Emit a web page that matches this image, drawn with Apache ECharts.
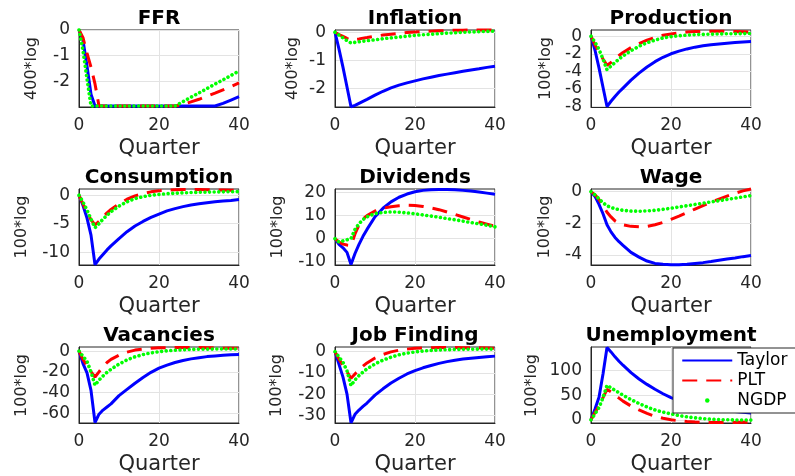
<!DOCTYPE html>
<html><head><meta charset="utf-8">
<script src="https://cdn.jsdelivr.net/npm/echarts@6/dist/echarts.min.js"></script>
<style>html,body{margin:0;padding:0;background:#fff}#c{width:795px;height:476px}</style>
</head><body><div id="c"></div>
<script>
// ---------------- DATA ----------------
const quarters = [0,1,2,3,4,5,6,7,8,10,12,14,16,18,20,22,24,26,28,30,32,34,36,38,40];
const seriesNames = ['Taylor','PLT','NGDP'];
const panelTitles = ['FFR','Inflation','Production','Consumption','Dividends','Wage','Vacancies','Job Finding','Unemployment'];
const yAxisNames = ['400*log','400*log','100*log','100*log','100*log','100*log','100*log','100*log','100*log'];
const xTickLabels = [0,20,40];
const yTickLabels = [
  [-2,-1,0], [-2,-1,0], [-8,-6,-4,-2,0],
  [-10,-5,0], [-10,0,10,20], [-4,-2,0],
  [-60,-40,-20,0], [-30,-20,-10,0], [0,50,100]
];

const ffrTaylor = [0,-0.4,-1.4,-2.5,-2.96,-2.96,-2.96,-2.96,-2.96,-2.96,-2.96,-2.96,-2.96,-2.96,-2.96,-2.96,-2.96,-2.96,-2.96,-2.96,-2.96,-2.96,-2.86,-2.73,-2.6];
const ffrPLT    = [0,-0.3,-0.9,-1.45,-2.1,-2.96,-2.96,-2.96,-2.96,-2.96,-2.96,-2.96,-2.96,-2.96,-2.96,-2.96,-2.96,-2.9,-2.8,-2.7,-2.58,-2.46,-2.33,-2.2,-2.06];
const ffrNGDP   = [0,-0.8,-1.9,-2.96,-2.96,-2.96,-2.96,-2.96,-2.96,-2.96,-2.96,-2.96,-2.96,-2.96,-2.96,-2.96,-2.96,-2.79,-2.62,-2.45,-2.28,-2.11,-1.94,-1.77,-1.6];

const infTaylor = [0,-0.6,-1.25,-1.95,-2.65,-2.6,-2.53,-2.46,-2.39,-2.24,-2.1,-1.98,-1.88,-1.8,-1.73,-1.66,-1.6,-1.54,-1.49,-1.44,-1.39,-1.34,-1.3,-1.25,-1.21];
const infPLT    = [0,-0.08,-0.15,-0.22,-0.28,-0.26,-0.24,-0.21,-0.19,-0.14,-0.1,-0.07,-0.04,-0.01,0.01,0.03,0.04,0.05,0.06,0.07,0.07,0.08,0.08,0.08,0.08];
const infNGDP   = [0,-0.1,-0.2,-0.3,-0.38,-0.36,-0.34,-0.32,-0.3,-0.27,-0.23,-0.2,-0.17,-0.14,-0.11,-0.09,-0.07,-0.05,-0.03,-0.02,0.0,0.01,0.02,0.03,0.04];

const prodTaylor = [0,-1.6,-3.6,-5.8,-8.0,-7.4,-6.85,-6.35,-5.9,-5.0,-4.2,-3.5,-2.9,-2.4,-2.0,-1.7,-1.45,-1.25,-1.1,-0.98,-0.88,-0.8,-0.73,-0.67,-0.62];
const prodPLT    = [0,-1.0,-1.8,-2.6,-3.3,-3.0,-2.6,-2.2,-1.85,-1.3,-0.85,-0.45,-0.15,0.1,0.25,0.38,0.47,0.52,0.55,0.56,0.56,0.55,0.53,0.5,0.47];
const prodNGDP   = [0,-0.7,-1.5,-2.6,-3.8,-3.4,-3.0,-2.6,-2.25,-1.65,-1.15,-0.75,-0.45,-0.2,-0.05,0.05,0.12,0.17,0.2,0.23,0.25,0.27,0.28,0.29,0.3];

const consTaylor = [0,-1.8,-4.0,-7.0,-12.2,-11.2,-10.4,-9.6,-8.9,-7.6,-6.4,-5.4,-4.6,-3.9,-3.3,-2.75,-2.35,-2.0,-1.7,-1.5,-1.3,-1.15,-1.0,-0.9,-0.75];
const consPLT    = [0,-1.5,-3.0,-4.3,-5.2,-4.6,-3.8,-3.1,-2.5,-1.5,-0.7,-0.1,0.3,0.6,0.8,0.9,0.98,1.0,1.0,1.0,0.98,0.95,0.92,0.88,0.85];
const consNGDP   = [0,-1.2,-2.6,-4.2,-5.7,-5.0,-4.2,-3.5,-2.9,-1.9,-1.15,-0.6,-0.25,0.0,0.15,0.27,0.36,0.43,0.48,0.52,0.55,0.58,0.6,0.62,0.64];

const divTaylor = [0,-2.5,-4.0,-6.0,-11.3,-6.5,-2.5,1.0,4.0,9.5,13.2,16.0,18.0,19.4,20.4,21.0,21.3,21.4,21.4,21.3,21.0,20.7,20.3,19.8,19.3];
const divPLT    = [0,-1.5,-2.4,-2.8,-3.0,2.0,6.0,8.5,10.0,12.0,13.2,13.9,14.3,14.5,14.4,14.0,13.4,12.6,11.6,10.5,9.4,8.3,7.2,6.3,5.4];
const divNGDP   = [0,-1.5,-1.0,-0.5,0.0,4.0,6.5,8.3,9.5,10.9,11.4,11.6,11.5,11.2,10.8,10.3,9.8,9.3,8.7,8.2,7.6,7.0,6.4,5.8,5.1];

const wageTaylor = [0,-0.3,-0.8,-1.4,-2.1,-2.55,-2.9,-3.17,-3.4,-3.85,-4.15,-4.4,-4.55,-4.6,-4.63,-4.63,-4.6,-4.55,-4.5,-4.43,-4.35,-4.27,-4.2,-4.12,-4.05];
const wagePLT    = [0,-0.2,-0.5,-0.9,-1.3,-1.6,-1.85,-2.0,-2.1,-2.2,-2.22,-2.2,-2.1,-1.95,-1.75,-1.55,-1.33,-1.1,-0.88,-0.67,-0.47,-0.28,-0.1,0.05,0.17];
const wageNGDP   = [0,-0.2,-0.45,-0.7,-0.9,-1.0,-1.08,-1.14,-1.18,-1.23,-1.24,-1.22,-1.18,-1.12,-1.05,-0.97,-0.89,-0.81,-0.73,-0.65,-0.57,-0.49,-0.41,-0.33,-0.25];

const vacTaylor = [0,-12,-21,-38,-69,-61,-57,-54,-51,-43,-37,-31,-25.5,-20.5,-16.5,-13.5,-11,-9,-7.5,-6.3,-5.3,-4.6,-4,-3.6,-3.2];
const vacPLT    = [0,-8,-14,-20,-25,-20,-15,-11,-8,-4,-1,1,2,2.8,3.2,3.4,3.5,3.5,3.5,3.4,3.3,3.2,3.0,2.9,2.7];
const vacNGDP   = [0,-5,-10,-20,-33,-28,-24,-20.5,-17.5,-12.5,-8.5,-5.5,-3.3,-1.7,-0.5,0.3,0.9,1.3,1.6,1.8,1.9,2.0,2.0,2.0,2.0];

const jobTaylor = [0,-6,-12,-20,-33.5,-29.5,-27.5,-25.8,-24.2,-20.5,-17.5,-14.8,-12.5,-10.5,-8.9,-7.6,-6.5,-5.5,-4.7,-4.0,-3.5,-3.1,-2.7,-2.4,-2.1];
const jobPLT    = [0,-3.5,-6.5,-9.5,-12.5,-10.5,-8.5,-6.8,-5.3,-3.0,-1.3,-0.1,0.7,1.2,1.6,1.8,1.9,2.0,2.0,2.0,1.9,1.9,1.8,1.7,1.6];
const jobNGDP   = [0,-2.5,-5,-9,-16,-13.3,-11.3,-9.6,-8.1,-5.8,-4,-2.6,-1.5,-0.7,-0.1,0.3,0.6,0.8,0.95,1.05,1.1,1.15,1.2,1.2,1.2];

const unTaylor = [0,22,46,93,147,138,128,119,111,96,83,72,62,53,45,39,34,29.5,26,23,20.5,18.5,16.8,15.3,14];
const unPLT    = [0,15,28,45,62,57,50,44,38,28,20,13,7,3,0,-2,-3.5,-4.5,-5,-5.5,-5.5,-5.5,-5.3,-5,-4.7];
const unNGDP   = [0,12,25,45,70,65,60,55,50,41,33,26,20,15.5,12,8.5,6,4,2.5,1.3,0.5,0,-0.3,-0.5,-0.6];

const yMin = [-3,-2.66,-8.05,-12.25,-11.5,-4.65,-69.5,-33.6,-6.5];
const yMax = [0,0.08,0.7,1.1,21.6,0.17,4,2.2,148];

// ---------------- LAYOUT / STYLE ----------------
const panels = [
  [ffrTaylor, ffrPLT, ffrNGDP],
  [infTaylor, infPLT, infNGDP],
  [prodTaylor, prodPLT, prodNGDP],
  [consTaylor, consPLT, consNGDP],
  [divTaylor, divPLT, divNGDP],
  [wageTaylor, wagePLT, wageNGDP],
  [vacTaylor, vacPLT, vacNGDP],
  [jobTaylor, jobPLT, jobNGDP],
  [unTaylor, unPLT, unNGDP]
];
const colLeft = [79, 335, 591];
const rowTop = [30, 189, 347];
const rowH = [77, 76, 77];
const plotW = 160;
const yNameDist = [47, 42, 45, 57, 57, 46, 57, 58, 59];
const FONT = 'DejaVu Sans';
const AX = '#262626';

const seriesStyle = [
  {color:'#0000ff', lineStyle:{width:3, type:'solid'}},
  {color:'#ff0000', lineStyle:{width:3, type:[15,9]}},
  {color:'#00ff00', lineStyle:{width:3.6, type:[0.01,4.6], cap:'round'}}
];

const grids = [], xAxes = [], yAxes = [], titles = [], series = [], graphics = [];
panels.forEach((pd, i) => {
  const r = Math.floor(i / 3), c = i % 3;
  grids.push({left: colLeft[c], top: rowTop[r], width: plotW, height: rowH[r],
    show: true, borderColor: AX, borderWidth: 1, backgroundColor: '#fff'});
  titles.push({text: panelTitles[i], left: colLeft[c] + plotW/2, top: rowTop[r] - 21, textAlign: 'center',
    padding: 0, textStyle: {fontFamily: FONT, fontWeight: 'bold', fontSize: 20, color: '#000'}});
  graphics.push({type: 'text', x: colLeft[c] - yNameDist[i], y: rowTop[r] + rowH[r] / 2,
    rotation: Math.PI / 2, silent: true, z: 5,
    style: {text: yAxisNames[i], fill: AX, font: '16px "DejaVu Sans"', align: 'center', verticalAlign: 'middle'}});
  xAxes.push({type: 'value', gridIndex: i, min: xTickLabels[0], max: xTickLabels[xTickLabels.length-1],
    interval: xTickLabels[1] - xTickLabels[0],
    name: 'Quarter', nameLocation: 'middle', nameGap: 31,
    nameTextStyle: {fontFamily: FONT, fontSize: 21, color: AX},
    axisLine: {show: true, onZero: false, lineStyle: {color: AX, width: 1}},
    axisTick: {show: false},
    axisLabel: {fontFamily: FONT, fontSize: 17, color: AX, margin: 10},
    splitLine: {show: true, lineStyle: {color: '#e3e3e3', width: 1}}});
  const ticks = yTickLabels[i];
  const yAx = {type: 'value', gridIndex: i, min: yMin[i], max: yMax[i],
    axisLine: {show: true, onZero: false, lineStyle: {color: AX, width: 1}},
    axisTick: {show: false},
    axisLabel: {fontFamily: FONT, fontSize: 17, color: AX, margin: 9, hideOverlap: false},
    splitLine: {show: true, lineStyle: {color: '#e3e3e3', width: 1}}};
  if (i === 0) {
    // FFR: min is a multiple of the tick step, so ticks are counted from it
    yAx.interval = ticks[1] - ticks[0];
    yAx.axisLabel.showMinLabel = false;
    yAx.axisLabel.showMaxLabel = true;
  } else {
    yAx.axisTick.customValues = ticks;
    yAx.axisLabel.customValues = ticks;
    yAx.axisLabel.showMinLabel = true;
    yAx.axisLabel.showMaxLabel = true;
  }
  yAxes.push(yAx);
  pd.forEach((vals, s) => {
    series.push({name: seriesNames[s], type: 'line', xAxisIndex: i, yAxisIndex: i,
      data: quarters.map((q, k) => [q, vals[k]]),
      symbol: 'none', showSymbol: false, clip: false, smooth: false,
      color: seriesStyle[s].color,
      lineStyle: Object.assign({color: seriesStyle[s].color}, seriesStyle[s].lineStyle),
      z: 2 + s, animation: false});
  });
});

const chart = echarts.init(document.getElementById('c'), null, {renderer: 'canvas'});
chart.setOption({
  animation: false,
  backgroundColor: '#fff',
  title: titles,
  grid: grids,
  xAxis: xAxes,
  yAxis: yAxes,
  graphic: graphics,
  legend: {
    data: [
      {name: 'Taylor'},
      {name: 'PLT'},
      {name: 'NGDP', lineStyle: {type: [0.01, 200], dashOffset: -25, cap: 'round', width: 4.5}}
    ],
    orient: 'vertical', left: 673, top: 348, itemWidth: 50, itemHeight: 14, itemGap: 3,
    padding: [4, 14, 4, 7], backgroundColor: '#fff', borderColor: AX, borderWidth: 1, borderRadius: 0,
    textStyle: {fontFamily: FONT, fontSize: 17, color: '#000'},
    itemStyle: {opacity: 0}, selectedMode: false, z: 10
  },
  series: series
});
</script>
</body></html>
